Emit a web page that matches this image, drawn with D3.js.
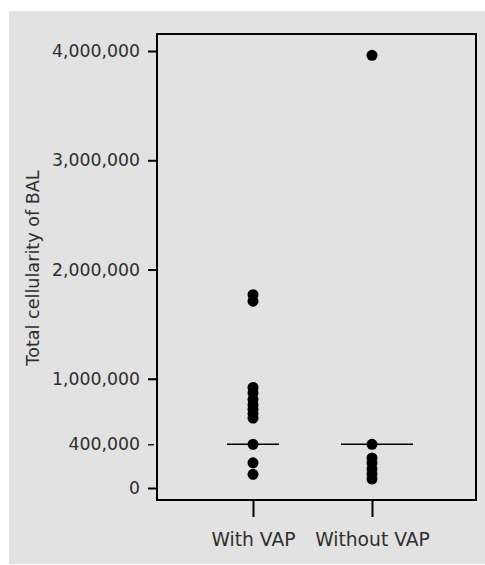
<!DOCTYPE html>
<html>
<head>
<meta charset="utf-8">
<script src="https://cdn.jsdelivr.net/npm/d3@7"></script>
<style>
  body { margin: 0; background: #fff; }
  text { font-family: "DejaVu Sans", sans-serif; fill: #2e2e2e; }
</style>
</head>
<body>
<svg class="svg" width="485" height="565"></svg>
<script>
// groups on the x axis
const groups = ["With VAP", "Without VAP"];

// total cellularity of BAL
const withVap = [1770000, 1710000, 920000, 870000, 810000, 760000, 720000, 680000, 640000, 400000, 230000, 125000];
const withoutVap = [3960000, 400000, 275000, 229000, 174000, 128000, 82000];

// medians drawn as horizontal bars
const medians = [400000, 400000];

// y tick values
const yTicks = [0, 400000, 1000000, 2000000, 3000000, 4000000];

const width = 485, height = 565;
const svg = d3.select(".svg");

// grey panel
svg.append("rect")
    .attr("x", 9).attr("y", 11)
    .attr("width", width - 9).attr("height", 553)
    .attr("fill", "#e2e2e2");

const plot = { left: 157, right: 476, top: 34, bottom: 500 };

const y = d3.scaleLinear().domain([0, 4000000]).range([488, 51]);
const x = d3.scalePoint().domain(groups).range([253, 372]);

// frame
svg.append("rect")
    .attr("x", plot.left).attr("y", plot.top)
    .attr("width", plot.right - plot.left).attr("height", plot.bottom - plot.top)
    .attr("fill", "none").attr("stroke", "#000").attr("stroke-width", 2);

// y axis
const yAxis = svg.append("g")
    .attr("transform", `translate(${plot.left},0)`)
    .call(d3.axisLeft(y).tickValues(yTicks).tickFormat(d3.format(",")).tickSize(9).tickPadding(8))
    .call(g => g.select(".domain").remove());

yAxis.selectAll(".tick line").attr("stroke", "#000").attr("stroke-width", 2);
yAxis.selectAll(".tick text")
    .attr("font-size", 17.3).attr("font-family", "DejaVu Sans").attr("fill", "#2e2e2e");
// the 400,000 tick is a short thin one
yAxis.selectAll(".tick").filter(d => d === 400000).select("line")
    .attr("x1", -3).attr("x2", -9).attr("stroke-width", 1.3);

// x axis
const xAxis = svg.append("g")
    .attr("transform", `translate(0,${plot.bottom})`)
    .call(d3.axisBottom(x).tickSize(17).tickPadding(16))
    .call(g => g.select(".domain").remove());

xAxis.selectAll(".tick line").attr("stroke", "#000").attr("stroke-width", 2);
xAxis.selectAll(".tick text")
    .attr("font-size", 18.7).attr("font-family", "DejaVu Sans").attr("fill", "#2e2e2e");

// y axis title
svg.append("text")
    .attr("transform", `translate(38.5,268) rotate(-90)`)
    .attr("text-anchor", "middle")
    .attr("font-size", 17.6)
    .text("Total cellularity of BAL");

// median bars
const medianSpan = [[-26, 26], [-31, 41]];
svg.selectAll(".median")
    .data(groups)
    .enter()
    .append("line")
    .attr("class", "median")
    .attr("x1", (d, i) => x(d) + medianSpan[i][0])
    .attr("x2", (d, i) => x(d) + medianSpan[i][1])
    .attr("y1", (d, i) => y(medians[i]))
    .attr("y2", (d, i) => y(medians[i]))
    .attr("stroke", "#000")
    .attr("stroke-width", 1.6);

// points
const points = [
    ...withVap.map(v => ({ g: groups[0], v })),
    ...withoutVap.map(v => ({ g: groups[1], v }))
];

svg.selectAll(".dot")
    .data(points)
    .enter()
    .append("circle")
    .attr("class", "dot")
    .attr("cx", d => x(d.g))
    .attr("cy", d => y(d.v))
    .attr("r", 5.5)
    .attr("fill", "#000");
</script>
</body>
</html>
